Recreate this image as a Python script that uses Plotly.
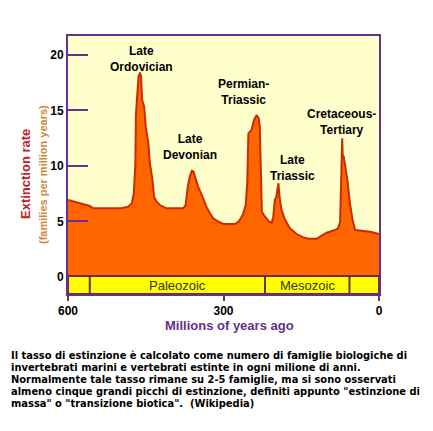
import plotly.graph_objects as go

# ---- data ----
ma = [600, 574, 558, 551, 500, 484, 477, 473, 470, 469, 466, 464, 461, 459, 457, 453,
      450, 445, 442, 437, 434, 429, 423, 410, 378, 373, 369, 365, 361, 358, 355, 349,
      342, 333, 326, 320, 310, 300, 278, 271, 263, 257, 254, 252, 246, 241, 236, 232,
      230, 228, 226, 220, 212, 207, 204, 201, 198, 194, 192, 188, 181, 172, 159, 146,
      136, 120, 111, 101, 85, 79, 75, 73, 71, 70, 68, 66, 61, 56, 51, 46, 37, 17, 0]
rate = [6.93, 6.63, 6.39, 6.18, 6.18, 6.33, 6.63, 7.53, 10.24, 14.59, 16.24, 18.05, 18.41, 18.05, 15.94, 15.34,
        13.54, 12.04, 10.24, 8.74, 7.23, 6.78, 6.48, 6.18, 6.18, 6.48, 8.14, 9.04, 9.55, 9.49, 9.04, 8.14,
        7.39, 6.33, 5.73, 5.28, 4.98, 4.77, 4.77, 4.98, 5.58, 6.48, 8.74, 12.94, 13.24, 14.14, 14.59, 14.29,
        13.54, 10.24, 5.88, 5.43, 4.98, 4.89, 5.43, 6.93, 7.23, 8.44, 7.23, 6.03, 5.13, 4.38, 3.87, 3.57,
        3.45, 3.45, 3.69, 3.99, 4.23, 4.38, 4.98, 8.74, 12.49, 10.99, 10.84, 10.24, 8.74, 6.63, 5.13, 4.23, 4.17, 4.08, 3.87]

event_labels = ["Late<br>Ordovician", "Late<br>Devonian", "Permian-<br>Triassic",
                "Late<br>Triassic", "Cretaceous-<br>Tertiary"]
event_ma = [459, 365, 262, 166, 73]
event_y = [19.6, 11.7, 16.7, 9.8, 14.0]

era_bounds = [600, 558, 220, 57, 0]
era_names = ["", "Paleozoic", "Mesozoic", ""]

x_ticks = [600, 300, 0]
y_ticks = [0, 5, 10, 15, 20]

caption = [
    "Il tasso di estinzione è calcolato come numero di famiglie biologiche di",
    "invertebrati marini e vertebrati estinte in ogni milione di anni.",
    "Normalmente tale tasso rimane su 2-5 famiglie, ma si sono osservati",
    "almeno cinque grandi picchi di estinzione, definiti appunto \"estinzione di",
    "massa\" o \"transizione biotica\".  (Wikipedia)",
]

PURPLE = "#66308f"
BAND_LINE = "#6b2d4a"
Y_MIN, Y_MAX = -1.53, 21.7
BAND_TOP = 0.09

fig = go.Figure()
fig.add_trace(go.Scatter(
    x=ma, y=rate, mode="lines", fill="tozeroy",
    fillcolor="#ff6600", line=dict(color="#cc2a00", width=2),
    hoverinfo="skip", showlegend=False))

# time band
shapes = []
shapes.append(dict(type="rect", xref="x", yref="y", x0=era_bounds[0], x1=era_bounds[-1],
                   y0=Y_MIN, y1=BAND_TOP, fillcolor="#ffff00",
                   line=dict(color=BAND_LINE, width=2), layer="above"))
for b in era_bounds[1:-1]:
    shapes.append(dict(type="line", xref="x", yref="y", x0=b, x1=b, y0=Y_MIN, y1=BAND_TOP,
                       line=dict(color=BAND_LINE, width=2), layer="above"))

ann = []
for t, xm, ym in zip(event_labels, event_ma, event_y):
    ann.append(dict(x=xm, y=ym, xref="x", yref="y", text=t, showarrow=False,
                    font=dict(family="Liberation Sans, Arial", size=12, color="black", weight="bold")))
for i, name in enumerate(era_names):
    if name:
        ann.append(dict(x=(era_bounds[i] + era_bounds[i + 1]) / 2, y=(Y_MIN + BAND_TOP) / 2,
                        xref="x", yref="y", text=name, showarrow=False,
                        font=dict(family="Liberation Sans, Arial", size=13, color="#333333")))

# plot area in pixels
L, T, R, B = 68, 36, 379, 294
W, H = R - L, B - T
def px(xp): return (xp - L) / W
def py(yp): return (B - yp) / H

ann.append(dict(x=px(25), y=py(174), xref="paper", yref="paper", text="Extinction rate",
                textangle=-90, showarrow=False, xanchor="center", yanchor="middle",
                font=dict(family="Liberation Sans, Arial", size=13, color="#b8242a", weight="bold")))
ann.append(dict(x=px(43), y=py(175), xref="paper", yref="paper", text="(families per million years)",
                textangle=-90, showarrow=False, xanchor="center", yanchor="middle",
                font=dict(family="Liberation Sans, Arial", size=11, color="#d08838", weight="bold")))
ann.append(dict(x=px(229), y=py(325), xref="paper", yref="paper", text="Millions of years ago",
                showarrow=False, xanchor="center", yanchor="middle",
                font=dict(family="Liberation Sans, Arial", size=13, color=PURPLE, weight="bold")))

for i, line in enumerate(caption):
    ann.append(dict(x=px(10), y=py(355 + 12.2 * i), xref="paper", yref="paper", text=line,
                    xanchor="left", yanchor="middle", showarrow=False, borderpad=0,
                    font=dict(family="DejaVu Sans Condensed, DejaVu Sans", size=11,
                              color="black", weight="bold")))

fig.update_layout(
    width=433, height=431,
    margin=dict(l=L, r=433 - R, t=T, b=431 - B, pad=0),
    paper_bgcolor="white", plot_bgcolor="#ffffcc",
    shapes=shapes, annotations=ann,
    xaxis=dict(range=[600, 0], tickvals=x_ticks, ticks="outside", ticklen=5, tickwidth=2,
               tickcolor=PURPLE, showline=True, linecolor=PURPLE, linewidth=2, mirror=True,
               showgrid=False, zeroline=False,
               tickfont=dict(family="Liberation Sans, Arial", size=12, color="black", weight="bold")),
    yaxis=dict(range=[Y_MIN, Y_MAX], tickvals=y_ticks, ticks="inside", ticklen=20, tickwidth=2,
               tickcolor=PURPLE, showline=True, linecolor=PURPLE, linewidth=2, mirror=True,
               showgrid=False, zeroline=False,
               tickfont=dict(family="Liberation Sans, Arial", size=12, color="black", weight="bold")),
)

fig.write_html("out.html")
